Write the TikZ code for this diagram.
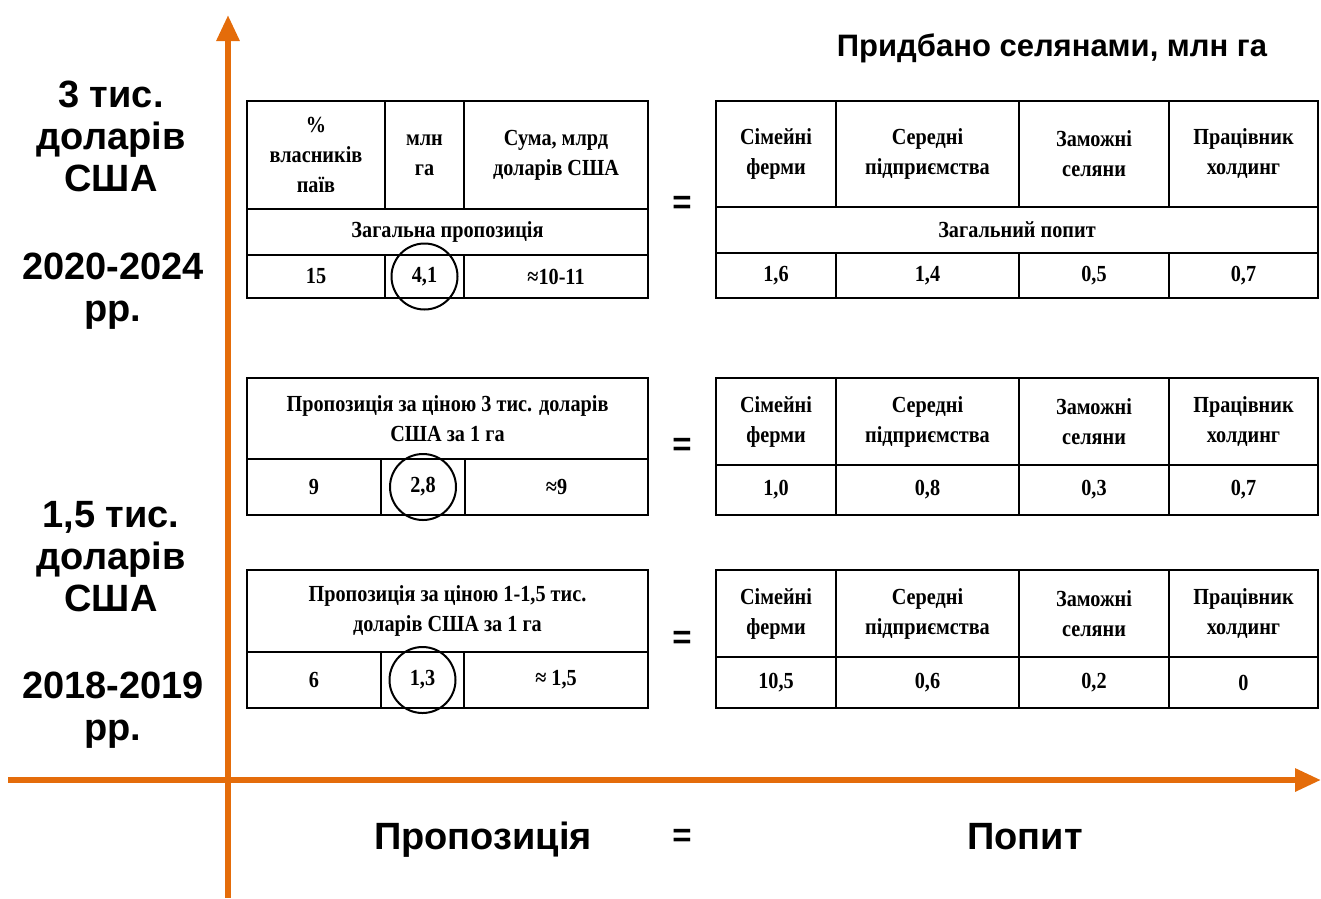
\documentclass[tikz,border=0pt]{standalone}
\usepackage{fontspec}
\setmainfont{Liberation Serif}
\setsansfont{Liberation Sans}
\newfontfamily\cellfont{Liberation Serif}[FakeStretch=0.88]
\usetikzlibrary{arrows.meta}
\definecolor{axisorange}{RGB}{228,108,10}

\tikzset{%
	cell/.style={
		draw,
		line width=1.3pt,
		inner sep=0pt,
		align=center,
		font=\cellfont\bfseries\fontsize{23}{30}\selectfont
	},
	ring/.style={circle, draw, line width=2pt, minimum size=66pt, inner sep=0pt},
	axisline/.style={line width=6pt, draw=axisorange, -{Triangle[length=26pt,width=22pt]}},
	sidetext/.style={font=\sffamily\bfseries\fontsize{38}{42}\selectfont, align=center},
	bigtext/.style={font=\sffamily\bfseries\fontsize{38}{40}\selectfont, anchor=base},
	eqsign/.style={font=\sffamily\bfseries\fontsize{33}{33}\selectfont},
}

\begin{document}
\begin{tikzpicture}[x=1pt, y=-1pt]
\useasboundingbox (0,0) rectangle (1321,898);

% axes
\coordinate (v-bot) at (228,898);
\coordinate (v-top) at (228,15);
\coordinate (h-left) at (8,780);
\coordinate (h-right) at (1321,780);
\draw [axisline] (v-bot) -- (v-top);
\draw [axisline] (h-left) -- (h-right);

% left labels
\node [sidetext] (price-1) at (111,136) {3 тис.\\доларів\\США};
\node [sidetext] (year-1) at (113,291) {2020-2024\\рр.};
\node [sidetext] (price-2) at (111,557) {1,5 тис.\\доларів\\США};
\node [sidetext] (year-2) at (113,710) {2018-2019\\рр.};

\node [font=\sffamily\bfseries\fontsize{31}{33}\selectfont] (title) at (1052,48) {Придбано селянами, млн га};

% supply tables
\foreach \l/\xa/\xb [count=\i] in {{\%\\власників\\паїв}/247/385, {млн\\га}/385/464, {Сума, млрд\\доларів США}/464/648}
\node [cell, minimum width={(\xb-\xa)*1pt}, minimum height=108pt] (s1-h\i) at ({(\xa+\xb)/2},155) {\l};
\node [cell, minimum width=401pt, minimum height=46pt] (s1-all) at (447.5,232) {Загальна пропозиція};
\foreach \v/\xa/\xb [count=\i] in {15/247/385, {4,1}/385/464, {≈10-11}/464/648}
\node [cell, minimum width={(\xb-\xa)*1pt}, minimum height=43pt] (s1-v\i) at ({(\xa+\xb)/2},276.5) {\v};

\node [cell, minimum width=401pt, minimum height=81pt] (s2-h) at (447.5,418.5) {Пропозиція за ціною 3 тис. доларів\\США за 1 га};
\foreach \v/\xa/\xb [count=\i] in {9/247/381, {2,8}/381/465, {≈9}/465/648}
\node [cell, minimum width={(\xb-\xa)*1pt}, minimum height=56pt] (s2-v\i) at ({(\xa+\xb)/2},487) {\v};

\node [cell, minimum width=401pt, minimum height=82pt] (s3-h) at (447.5,611) {Пропозиція за ціною 1-1,5 тис.\\доларів США за 1 га};
\foreach \v/\xa/\xb [count=\i] in {6/247/381, {1,3}/381/464, {≈ 1,5}/464/648}
\node [cell, minimum width={(\xb-\xa)*1pt}, minimum height=56pt] (s3-v\i) at ({(\xa+\xb)/2},680) {\v};

% circled areas
\node [ring] (ring-1) at (s1-v2) {};
\node [ring] (ring-2) at (s2-v2) {};
\node [ring] (ring-3) at (s3-v2) {};

% demand tables
\foreach \tb/\ya/\yb in {d1/101/207, d2/378/465, d3/570/657}
\foreach \l/\xa/\xb [count=\i] in {{Сімейні\\ферми}/716/836, {Середні\\підприємства}/836/1019, {Заможні\\селяни}/1019/1169, {Працівник\\холдинг}/1169/1318}
\node [cell, minimum width={(\xb-\xa)*1pt}, minimum height={(\yb-\ya)*1pt}] (\tb-h\i) at ({(\xa+\xb)/2},{(\ya+\yb)/2}) {\l};

\node [cell, minimum width=602pt, minimum height=46pt] (d1-all) at (1017,230) {Загальний попит};
\foreach \v/\xa/\xb [count=\i] in {{1,6}/716/836, {1,4}/836/1019, {0,5}/1019/1169, {0,7}/1169/1318}
\node [cell, minimum width={(\xb-\xa)*1pt}, minimum height=45pt] (d1-v\i) at ({(\xa+\xb)/2},275.5) {\v};
\foreach \v/\xa/\xb [count=\i] in {{1,0}/716/836, {0,8}/836/1019, {0,3}/1019/1169, {0,7}/1169/1318}
\node [cell, minimum width={(\xb-\xa)*1pt}, minimum height=50pt] (d2-v\i) at ({(\xa+\xb)/2},490) {\v};
\foreach \v/\xa/\xb [count=\i] in {{10,5}/716/836, {0,6}/836/1019, {0,2}/1019/1169, 0/1169/1318}
\node [cell, minimum width={(\xb-\xa)*1pt}, minimum height=51pt] (d3-v\i) at ({(\xa+\xb)/2},682.5) {\v};

% equals signs
\foreach \y [count=\i] in {205,447,640,838}
\node [eqsign] (eq-\i) at (682,\y) {=};

% bottom captions
\node [bigtext] (supply) at (483,849) {Пропозиція};
\node [bigtext] (demand) at (1025,849) {Попит};

\end{tikzpicture}
\end{document}
